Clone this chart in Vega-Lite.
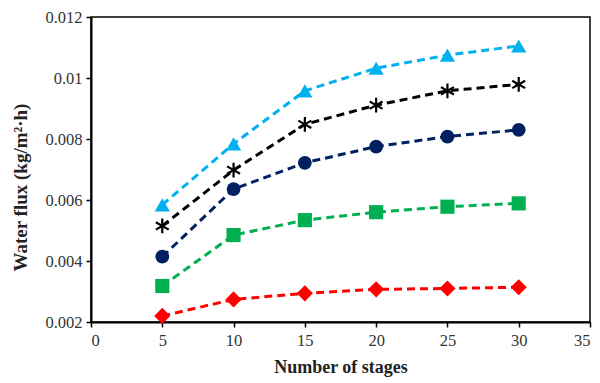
{
  "$schema": "https://vega.github.io/schema/vega-lite/v6.json",
  "width": 499,
  "height": 305,
  "autosize": {"type": "none"},
  "padding": {"left": 91, "top": 17, "right": 10, "bottom": 61},
  "background": "white",
  "config": {
    "view": {"stroke": "black", "strokeWidth": 1.5},
    "font": "Liberation Serif",
    "axis": {
      "grid": false,
      "domainColor": "black",
      "domainWidth": 2,
      "tickColor": "black",
      "tickWidth": 1.5,
      "tickSize": 5,
      "labelFont": "Liberation Serif",
      "labelFontSize": 16.5,
      "labelColor": "#333333",
      "titleFont": "Liberation Serif",
      "titleFontSize": 18,
      "titleFontWeight": "bold",
      "titleColor": "#222222"
    }
  },
  "data": {
    "values": [
      {"series": "A", "stages": 5, "flux": 0.00584},
      {"series": "A", "stages": 10, "flux": 0.00784},
      {"series": "A", "stages": 15, "flux": 0.00958},
      {"series": "A", "stages": 20, "flux": 0.01032},
      {"series": "A", "stages": 25, "flux": 0.01075},
      {"series": "A", "stages": 30, "flux": 0.01105},
      {"series": "B", "stages": 5, "flux": 0.00515},
      {"series": "B", "stages": 10, "flux": 0.00698},
      {"series": "B", "stages": 15, "flux": 0.00848},
      {"series": "B", "stages": 20, "flux": 0.00911},
      {"series": "B", "stages": 25, "flux": 0.00958},
      {"series": "B", "stages": 30, "flux": 0.00979},
      {"series": "C", "stages": 5, "flux": 0.00414},
      {"series": "C", "stages": 10, "flux": 0.00636},
      {"series": "C", "stages": 15, "flux": 0.00722},
      {"series": "C", "stages": 20, "flux": 0.00775},
      {"series": "C", "stages": 25, "flux": 0.00808},
      {"series": "C", "stages": 30, "flux": 0.0083},
      {"series": "D", "stages": 5, "flux": 0.00318},
      {"series": "D", "stages": 10, "flux": 0.00485},
      {"series": "D", "stages": 15, "flux": 0.00534},
      {"series": "D", "stages": 20, "flux": 0.0056},
      {"series": "D", "stages": 25, "flux": 0.00578},
      {"series": "D", "stages": 30, "flux": 0.00589},
      {"series": "E", "stages": 5, "flux": 0.0022},
      {"series": "E", "stages": 10, "flux": 0.00274},
      {"series": "E", "stages": 15, "flux": 0.00294},
      {"series": "E", "stages": 20, "flux": 0.00307},
      {"series": "E", "stages": 25, "flux": 0.0031},
      {"series": "E", "stages": 30, "flux": 0.00314}
    ]
  },
  "encoding": {
    "x": {
      "field": "stages",
      "type": "quantitative",
      "title": "Number of stages",
      "scale": {"domain": [0, 35], "nice": false},
      "axis": {"values": [0, 5, 10, 15, 20, 25, 30, 35], "labelPadding": 5, "titlePadding": 10}
    },
    "y": {
      "field": "flux",
      "type": "quantitative",
      "title": "Water flux (kg/m²·h)",
      "scale": {"domain": [0.002, 0.012], "nice": false, "zero": false},
      "axis": {
        "values": [0.002, 0.004, 0.006, 0.008, 0.01, 0.012],
        "format": ".3~f",
        "labelPadding": 4,
        "titleFontSize": 19,
        "titleX": -71,
        "titleY": 170,
        "titleAlign": "center",
        "titleBaseline": "middle",
        "titleAngle": 270
      }
    },
    "color": {
      "field": "series",
      "type": "nominal",
      "scale": {"domain": ["A", "B", "C", "D", "E"], "range": ["#00B0F0", "#000000", "#002060", "#00B050", "#FF0000"]},
      "legend": null
    }
  },
  "layer": [
    {
      "mark": {"type": "line", "strokeWidth": 3, "strokeDash": [8, 5]},
      "encoding": {"detail": {"field": "series"}}
    },
    {
      "transform": [{"filter": "datum.series === 'A'"}],
      "mark": {"type": "point", "filled": true, "opacity": 1, "shape": "triangle-up", "size": 230}
    },
    {
      "transform": [{"filter": "datum.series === 'C'"}],
      "mark": {"type": "point", "filled": true, "opacity": 1, "shape": "circle", "size": 190}
    },
    {
      "transform": [{"filter": "datum.series === 'D'"}],
      "mark": {"type": "point", "filled": true, "opacity": 1, "shape": "square", "size": 200}
    },
    {
      "transform": [{"filter": "datum.series === 'E'"}],
      "mark": {"type": "point", "filled": true, "opacity": 1, "shape": "diamond", "size": 260}
    },
    {
      "transform": [{"filter": "datum.series === 'B'"}],
      "mark": {
        "type": "point",
        "filled": false,
        "opacity": 1,
        "strokeWidth": 2.2,
        "size": 220,
        "shape": "M0,-1L0,1M-0.87,-0.5L0.87,0.5M-0.87,0.5L0.87,-0.5"
      }
    }
  ]
}
